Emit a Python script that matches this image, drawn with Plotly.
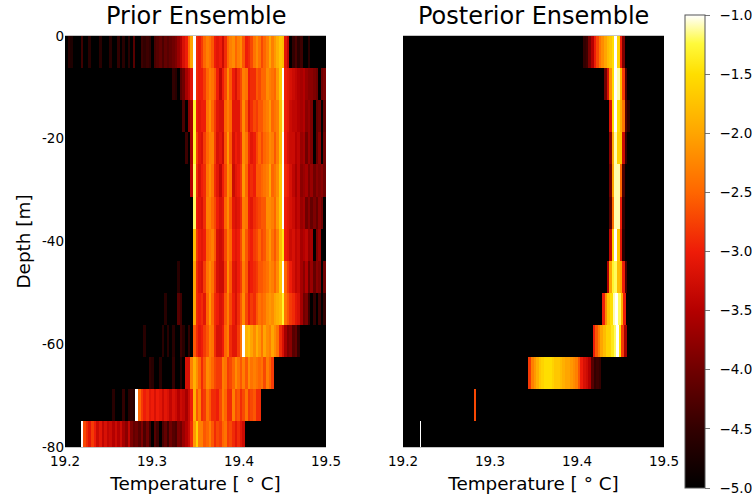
import numpy as np
import plotly.graph_objects as go

W, H = 752, 495
FLOOR = -5.0
BIN = 0.003
T_MIN = 19.2
T_MAX = 19.5
DEPTH_EDGES = [0, -6.25, -12.5, -18.75, -25, -31.25, -37.5, -43.75, -50, -56.25, -62.5, -68.75, -75, -80]
TEMP_TICKS = [19.2, 19.3, 19.4, 19.5]
TEMP_TICK_LABELS = ["19.2", "19.3", "19.4", "19.5"]
DEPTH_TICKS = [0, -20, -40, -60, -80]
DEPTH_TICK_LABELS = ["0", "-20", "-40", "-60", "-80"]
CBAR_TICKS = [-5, -4.5, -4, -3.5, -3, -2.5, -2, -1.5, -1]
CBAR_LABELS = ["\u2002\u22125.0", "\u2002\u22124.5", "\u2002\u22124.0", "\u2002\u22123.5", "\u2002\u22123.0", "\u2002\u22122.5", "\u2002\u22122.0", "\u2002\u22121.5", "\u2002\u22121.0"]

# Prior: log density below the 19.35 edge, listed up to the bin ending at about 19.35
PRIOR_COLD = [
    [-5,-4.6,-4.7,-5,-5,-5,-4.4,-5,-5,-4.6,-5,-5,-5,-4.6,-5,-5,-5,-4.6,-5,-5,-4.5,-5,-4.6,-5,-4.6,-5,-4.2,-5,-5,-4.4,-4.5,-4.4,-4.5,-5,-4.3,-4.2,-4.1,-4.3,-4.1,-4.2,-4.1,-4.0,-3.9,-3.7,-3.5,-3.2,-3.0,-2.5,-2.0,-1.0],
    [-4.5,-4.6,-5,-4.2,-4.0,-3.6,-3.4,-3.1,-1.0],
    [-4.3,-5,-3.8,-3.6,-1.3],
    [-4.4,-5,-3.6,-1.3],
    [-3.5,-1.2],
    [-1.2],
    [-1.8],
    [-4.6,-5,-5,-5,-5,-5,-2.0],
    [-4.6,-5,-5,-5,-5,-4.2,-4.4,-5,-5,-5,-5,-2.0],
    [-4.6,-5,-5,-5,-5,-5,-5,-4.6,-5,-4.6,-5,-4.6,-5,-5,-4.4,-4.6,-5,-4.5,-5,-2.6],
    [-4.5,-4.6,-5,-5,-4.6,-5,-5,-5,-5,-4.5,-5,-5,-4.6,-5,-3.2,-3.2,-2.3,-1.9],
    [-4.6,-5,-5,-5,-4.5,-5,-4.6,-4.5,-4.6,-1.0,-2.5,-2.8,-3.0,-2.9,-3.1,-3.0,-3.2,-3.0,-3.1,-3.3,-3.1,-3.2,-3.4,-3.2,-3.3,-3.5,-3.3,-3.4,-3.6,-3.3,-3.0,-1.9],
    [-1.0,-2.7,-2.9,-3.1,-2.8,-3.0,-3.3,-3.1,-3.4,-3.2,-3.4,-3.3,-3.5,-3.3,-3.5,-3.3,-3.6,-3.8,-3.4,-3.9,-4.1,-4.0,-4.2,-3.9,-4.3,-4.0,-4.4,-5,-4.2,-4.4,-5,-4.3,-4.1,-4.4,-4.0,-4.2,-4.3,-3.9,-4.0,-3.7,-3.5,-3.3,-2.9,-2.1],
]
# Prior: log density from about 19.35 upward
PRIOR_WARM = [
    [-2.9,-3.0,-2.8,-2.5,-2.3,-2.4,-2.6,-3.0,-3.1,-3.0,-3.3,-2.9,-2.5,-2.3,-2.2,-2.5,-2.3,-2.2,-2.6,-3.0,-2.9,-2.7,-2.4,-2.2,-2.4,-2.7,-2.5,-2.3,-2.0,-2.3,-2.1,-1.9,-1.7,-1.8,-3.1,-3.4,-5,-4.5,-4.3,-4.6,-4.4,-5,-5,-4.6],
    [-2.9,-3.0,-3.0,-2.8,-2.5,-2.3,-2.4,-2.6,-3.0,-3.4,-3.0,-2.7,-2.2,-2.6,-3.0,-3.2,-2.9,-2.7,-2.3,-2.4,-3.0,-2.9,-2.9,-2.6,-2.7,-2.5,-2.5,-2.2,-2.3,-2.4,-2.5,-2.1,-1.7,-1.0,-3.0,-3.1,-3.2,-3.3,-3.4,-3.5,-3.6,-3.5,-3.7,-3.8,-3.8,-3.9,-4.0,-5,-4.0,-3.9],
    [-3.0,-3.1,-3.0,-3.0,-2.4,-2.2,-2.5,-2.8,-3.1,-3.2,-3.2,-2.5,-2.3,-2.5,-3.1,-3.1,-3.1,-2.7,-2.2,-2.6,-3.1,-2.9,-2.7,-2.8,-2.6,-2.6,-2.4,-2.3,-2.1,-2.5,-2.4,-2.3,-1.8,-1.1,-3.0,-3.1,-3.3,-3.4,-3.4,-3.5,-3.6,-3.5,-3.8,-3.7,-3.9,-5,-4.1,-4.0,-5,-4.1],
    [-2.8,-3.1,-3.2,-2.8,-2.5,-2.3,-2.3,-2.8,-3.2,-3.1,-3.3,-2.6,-2.1,-2.6,-3.2,-3.0,-3.1,-2.9,-2.2,-2.4,-2.9,-3.1,-3.0,-2.7,-2.5,-2.7,-2.5,-2.4,-2.2,-2.3,-2.6,-2.3,-1.8,-1.0,-3.0,-3.2,-3.3,-3.3,-3.5,-3.4,-3.7,-3.6,-4.0,-3.7,-3.9,-5,-4.1,-3.8,-5,-4.0],
    [-2.9,-3.2,-3.0,-2.9,-2.4,-2.2,-2.4,-2.9,-3.1,-3.4,-3.0,-2.7,-2.2,-2.4,-3.3,-3.1,-3.0,-2.8,-2.1,-2.5,-3.0,-2.9,-3.0,-2.6,-2.6,-2.5,-2.4,-2.3,-2.0,-2.5,-2.4,-2.2,-1.7,-1.0,-2.9,-3.0,-3.2,-3.4,-3.6,-3.4,-3.8,-3.7,-3.6,-3.9,-3.7,-4.0,-3.8,-3.9,-3.8,-4.0],
    [-3.0,-3.1,-3.2,-2.9,-2.3,-2.3,-2.5,-2.7,-3.0,-3.2,-3.1,-2.5,-2.2,-2.6,-3.1,-3.2,-3.1,-2.9,-2.3,-2.4,-3.0,-3.1,-2.9,-2.8,-2.7,-2.6,-2.6,-2.2,-2.2,-2.3,-2.5,-2.1,-1.7,-1.0,-3.0,-3.1,-3.2,-3.3,-3.5,-3.4,-3.7,-3.6,-4.0,-3.8,-4.1,-3.9,-4.1,-3.8,-4.0,-5],
    [-2.8,-3.0,-3.1,-3.0,-2.5,-2.4,-2.3,-2.6,-3.2,-3.3,-3.2,-2.7,-2.3,-2.5,-3.0,-3.1,-3.0,-2.7,-2.2,-2.6,-2.9,-3.0,-2.8,-2.7,-2.5,-2.7,-2.6,-2.3,-2.1,-2.4,-2.6,-2.3,-1.8,-1.4,-3.0,-3.1,-3.3,-3.2,-3.4,-3.3,-3.6,-3.5,-3.4,-3.7,-3.6,-5,-3.9,-3.7],
    [-2.9,-3.1,-3.2,-2.8,-2.4,-2.2,-2.4,-2.8,-3.2,-3.3,-3.3,-2.8,-2.2,-2.6,-3.1,-3.2,-3.0,-2.8,-2.3,-2.6,-3.1,-3.0,-2.9,-2.8,-2.6,-2.6,-2.5,-2.4,-2.2,-2.3,-2.5,-2.2,-1.7,-1.0,-2.5,-2.8,-3.0,-3.2,-3.4,-3.3,-3.6,-3.8,-3.5,-4.0,-3.7,-4.1,-3.8,-3.9,-5,-4.0],
    [-2.9,-3.0,-2.9,-3.1,-2.5,-2.1,-2.5,-2.9,-3.0,-3.2,-3.1,-2.6,-2.3,-2.7,-3.0,-3.2,-2.9,-2.6,-2.2,-2.7,-3.0,-2.8,-2.9,-2.6,-2.4,-2.5,-2.4,-2.2,-2.1,-2.2,-2.0,-1.9,-1.8,-1.3,-2.4,-2.6,-2.8,-2.9,-3.1,-3.2,-3.6,-4.0,-3.9,-4.4,-5,-4.5,-5,-4.4,-5,-4.5],
    [-2.9,-3.1,-3.0,-2.8,-2.6,-2.3,-2.4,-2.9,-3.2,-3.2,-3.0,-2.5,-2.3,-2.9,-3.1,-3.1,-2.8,-2.4,-1.0,-1.9,-1.8,-2.0,-2.2,-1.9,-2.1,-2.4,-2.0,-2.2,-2.3,-2.0,-2.2,-2.4,-2.9,-3.2,-3.6,-3.9,-3.8,-4.2,-4.1,-4.5],
    [-2.2,-2.5,-2.9,-2.6,-2.2,-2.3,-2.5,-2.7,-2.8,-2.8,-2.3,-2.4,-2.8,-2.7,-2.5,-2.2,-2.4,-2.6,-2.3,-2.6,-2.2,-2.4,-2.3,-2.4,-2.5,-2.4,-2.7,-2.3,-2.5,-2.8],
    [-2.6,-2.3,-2.9,-2.8,-2.4,-2.6,-2.9,-2.9,-3.0,-2.7,-2.3,-2.5,-2.9,-2.9,-2.3,-2.7,-2.6,-2.9,-2.7,-2.4,-2.8,-2.7,-2.6,-2.9,-2.9],
    [-1.6,-2.3,-2.3,-2.6,-2.5,-2.3,-2.6,-2.9,-2.7,-2.8,-2.5,-2.4,-2.8,-2.7,-2.9,-3.1,-2.9,-3.1,-3.3],
]

# Posterior: first temperature, bin width and log density of each layer
POST_START = [19.407, 19.431, 19.437, 19.437, 19.437, 19.437, 19.437, 19.434, 19.429, 19.418, 19.344, 19.2815, 19.22]
POST_WIDTH = [0.003, 0.003, 0.003, 0.003, 0.003, 0.003, 0.003, 0.003, 0.003, 0.003, 0.003, 0.002, 0.001]
POST_VALUES = [
    [-4.5,-4.4,-3.9,-3.5,-3.0,-2.7,-2.4,-2.2,-2.0,-1.8,-1.7,-1.5,-1.0,-1.6,-3.0,-3.9],
    [-4.0,-3.2,-2.2,-1.5,-1.0,-1.1,-1.8,-2.8,-4.3],
    [-3.2,-1.5,-1.0,-1.5,-1.9,-2.4,-4.2,-4.6],
    [-3.8,-1.9,-1.1,-1.6,-1.7,-3.3,-4.5],
    [-4.0,-2.0,-1.1,-1.1,-2.5,-4.3],
    [-4.2,-2.4,-1.1,-1.1,-3.0,-4.5],
    [-3.4,-1.6,-1.0,-1.7,-3.1,-4.6],
    [-3.5,-2.0,-1.3,-1.2,-1.8,-2.0,-3.0,-4.3],
    [-3.0,-2.2,-1.7,-1.5,-1.1,-1.0,-1.2,-1.9,-3.0],
    [-3.0,-2.6,-2.3,-2.0,-1.8,-1.6,-1.6,-1.4,-1.2,-1.0,-1.5,-2.8,-3.6],
    [-2.8,-2.3,-2.1,-1.9,-1.7,-1.6,-1.5,-1.5,-1.5,-1.6,-1.7,-1.7,-1.8,-1.9,-2.0,-2.0,-2.1,-2.2,-2.3,-2.6,-3.0,-3.2,-3.3,-3.5,-4.2,-4.5,-4.4,-4.5],
    [-2.7],
    [-1.0],
]

HEAT = [
    [0.0, "rgb(0,0,0)"], [0.125, "rgb(50,0,0)"], [0.25, "rgb(112,0,0)"], [0.375, "rgb(180,0,0)"],
    [0.5, "rgb(238,28,8)"], [0.625, "rgb(255,102,0)"], [0.75, "rgb(255,165,0)"], [0.875, "rgb(255,222,0)"],
    [0.94, "rgb(255,250,60)"], [1.0, "rgb(255,255,255)"],
]

fig = go.Figure()
n_bins = round((T_MAX - T_MIN) / BIN)
grid = T_MIN + BIN * np.arange(n_bins + 1)

prior_z = []
for cold, warm in zip(PRIOR_COLD, PRIOR_WARM):
    row = [FLOOR] * (n_bins // 2 - len(cold)) + cold + warm + [FLOOR] * (n_bins // 2 - len(warm))
    prior_z.append(row[:n_bins])
fig.add_trace(go.Heatmap(x=grid, y=DEPTH_EDGES, z=prior_z, coloraxis="coloraxis",
                         xaxis="x", yaxis="y", hoverinfo="skip"))

# posterior bands share one table, on the union of every layer's bin edges
post_edges = [np.round(s + w * np.arange(len(v) + 1), 5) for s, w, v in zip(POST_START, POST_WIDTH, POST_VALUES)]
post_x = np.unique(np.concatenate([[T_MIN, T_MAX]] + post_edges))
post_mid = (post_x[:-1] + post_x[1:]) / 2
post_z = []
for e, v in zip(post_edges, POST_VALUES):
    idx = np.searchsorted(e, post_mid) - 1
    inside = (post_mid > e[0]) & (post_mid < e[-1])
    post_z.append([v[i] if ok else FLOOR for i, ok in zip(idx, inside)])
fig.add_trace(go.Heatmap(x=post_x, y=DEPTH_EDGES, z=post_z, coloraxis="coloraxis",
                         xaxis="x2", yaxis="y2", hoverinfo="skip"))

FONT = "DejaVu Sans"
L1, R1, L2, R2, T, B = 65, 326, 403, 664, 36, 447
axis = dict(range=[T_MIN, T_MAX], tickvals=TEMP_TICKS, ticktext=TEMP_TICK_LABELS, ticks="", showgrid=False,
            zeroline=False, showline=True, mirror=True, linecolor="#c4c4c4", linewidth=1, automargin=False,
            ticklabelstandoff=2, tickfont=dict(family=FONT, size=13.5, color="black"),
            title=dict(text="Temperature [ \u00b0 C]", font=dict(family=FONT, size=18.4, color="black"), standoff=8))
fig.update_layout(
    width=W, height=H, margin=dict(l=0, r=0, t=0, b=0, autoexpand=False), paper_bgcolor="white", plot_bgcolor="black",
    font=dict(family=FONT, color="black"), showlegend=False,
    xaxis=dict(domain=[L1 / W, R1 / W], anchor="y", **axis),
    xaxis2=dict(domain=[L2 / W, R2 / W], anchor="y2", **axis),
    yaxis=dict(domain=[1 - B / H, 1 - T / H], anchor="x", range=[-80, 0], tickvals=DEPTH_TICKS, automargin=False,
               ticktext=DEPTH_TICK_LABELS, ticks="", showgrid=False, zeroline=False, showline=False,
               tickfont=dict(family=FONT, size=13.5, color="black"),
               title=dict(text="Depth [m]", font=dict(family=FONT, size=18.4, color="black"), standoff=6)),
    yaxis2=dict(domain=[1 - B / H, 1 - T / H], anchor="x2", range=[-80, 0], showticklabels=False, ticks="",
                automargin=False, showgrid=False, zeroline=False, showline=False),
    coloraxis=dict(cmin=-5, cmax=-1, colorscale=HEAT, colorbar=dict(
        x=685 / W, xanchor="left", y=1 - 15 / H, yanchor="top", len=473, lenmode="pixels", thickness=20,
        thicknessmode="pixels", xpad=0, ypad=0, outlinecolor="#555555", outlinewidth=1, tickvals=CBAR_TICKS,
        ticktext=CBAR_LABELS, ticks="outside", ticklen=5, tickcolor="#777777", tickwidth=1,
        ticklabeloverflow="allow", tickfont=dict(family=FONT, size=13.5, color="black"))),
    annotations=[
        dict(text="Prior Ensemble", x=(L1 + R1) / 2 / W, y=1 - 32 / H, xref="paper", yref="paper", xanchor="center",
             yanchor="bottom", showarrow=False, font=dict(family=FONT, size=24, color="black")),
        dict(text="Posterior Ensemble", x=(L2 + R2) / 2 / W, y=1 - 32 / H, xref="paper", yref="paper", xanchor="center",
             yanchor="bottom", showarrow=False, font=dict(family=FONT, size=24, color="black")),
    ],
)
fig.write_html("out.html", config=dict(displayModeBar=False), post_script="document.body.style.margin='0';")
